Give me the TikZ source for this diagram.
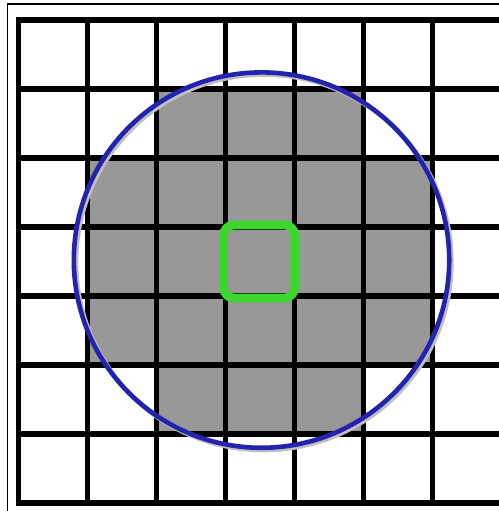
\documentclass[tikz,border=0pt]{standalone}
\usepackage{tikz}
\definecolor{bleuCercle}{RGB}{35,35,175}
\definecolor{vertCase}{RGB}{60,215,45}
\definecolor{grisCase}{RGB}{152,152,152}

\begin{document}
\begin{tikzpicture}[line cap=round,line join=round,x=1cm,y=1cm]
		\useasboundingbox (-0.27,-0.116) rectangle (6.96,7.289);
		\clip (-0.27,-0.116) rectangle (6.96,7.289);
		% cadre
		\draw[line width=0.6pt] (-0.165,-1) rectangle (8,7.231);
		% cases grises
		\fill[grisCase] (2,5) rectangle (5,6);
		\fill[grisCase] (1,2) rectangle (6,5);
		\fill[grisCase] (2,1) rectangle (5,2);
		% quadrillage
		\draw[line width=2.1pt, line cap=rect] (0,0) grid (7,7);
		% cercle
		\draw[black!25, line width=2pt] (3.55,3.49) circle (2.72);
		\draw[color=bleuCercle, line width=1.9pt] (3.52,3.52) circle (2.72);
		% case centrale
		\draw[color=vertCase, line width=3.6pt, rounded corners=0.15cm] (2.97,2.97) rectangle (4.0,4.03);
		\end{tikzpicture}
\end{document}
